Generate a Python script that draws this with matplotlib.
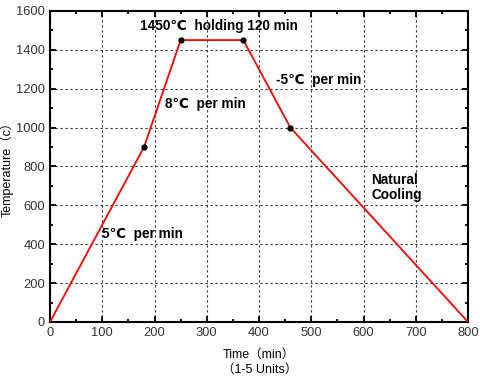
import matplotlib.pyplot as plt
from matplotlib.ticker import MultipleLocator

# profile points (time min, temperature C)
times = [0, 180, 250, 370, 460, 800]
temps = [0, 900, 1450, 1450, 1000, 0]
marker_times = [180, 250, 370, 460]
marker_temps = [900, 1450, 1450, 1000]

notes = ['1450℃  holding 120 min', '8℃  per min', '-5℃  per min', 'Natural\nCooling', '5℃  per min']
note_x = [172, 220, 432, 615, 100]
note_y = [1525, 1120, 1245, 690, 455]

fam = ['Liberation Sans', 'DejaVu Sans', 'Noto Sans CJK SC']
plt.rcParams['font.family'] = fam

fig = plt.figure(figsize=(4.81, 3.77), dpi=100)
ax = fig.add_axes([0.104, 0.146, 0.869, 0.825])

ax.plot(times, temps, color='red', lw=1.3, zorder=3)
ax.plot(marker_times, marker_temps, 'o', color='black', ms=3.5, zorder=4)

for t, x, y in zip(notes, note_x, note_y):
    ax.text(x, y, t, fontsize=9.8, fontweight='bold', va='center', ha='left',
            linespacing=1.1, family=fam)

ax.set_xlim(0, 800)
ax.set_ylim(0, 1600)
ax.xaxis.set_major_locator(MultipleLocator(100))
ax.xaxis.set_minor_locator(MultipleLocator(50))
ax.yaxis.set_major_locator(MultipleLocator(200))
ax.yaxis.set_minor_locator(MultipleLocator(100))
ax.grid(True, which='major', ls=(0, (2, 2.5)), color='#333333', lw=0.8)
ax.tick_params(which='both', direction='in', top=True, right=True, width=1.3,
               labelsize=9.3, labelcolor='#333333')
ax.tick_params(which='major', length=4.5)
ax.tick_params(which='minor', length=2.5)
for s in ax.spines.values():
    s.set_linewidth(1.5)

ax.set_ylabel('Temperature（c）', fontsize=9, labelpad=2, family=fam)
ax.set_xlabel('Time（min）', fontsize=9, labelpad=7, family=fam)
fig.text(0.54, 0.02, '（1-5 Units）', fontsize=9, ha='center', va='center', family=fam)

fig.savefig('out.png', dpi=100)
